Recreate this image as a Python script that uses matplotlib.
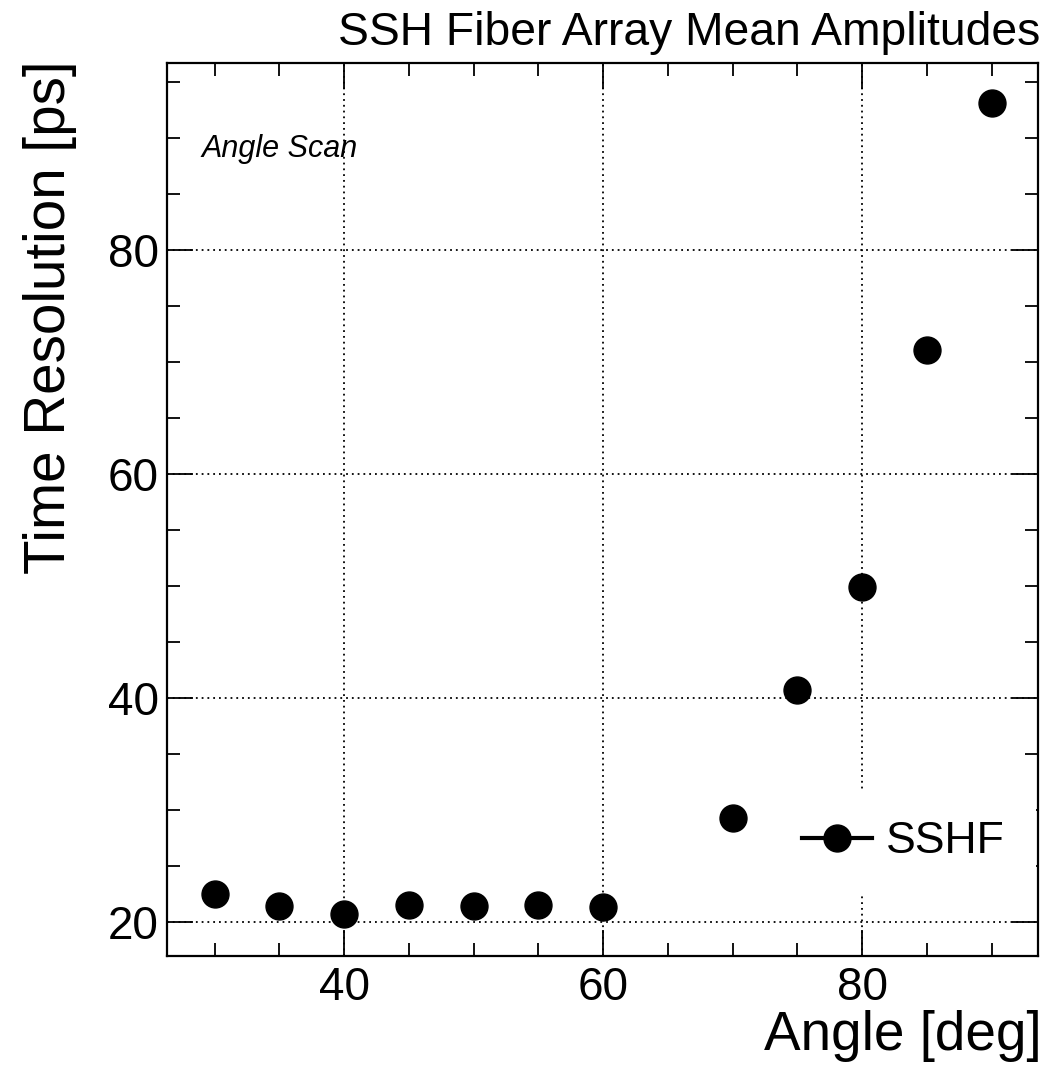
import matplotlib
matplotlib.use("Agg")
import matplotlib.pyplot as plt
from matplotlib.lines import Line2D
from matplotlib.ticker import MultipleLocator

plt.rcParams['font.family'] = ['Liberation Sans', 'DejaVu Sans']

angles = [30, 35, 40, 45, 50, 55, 60, 70, 75, 80, 85, 90]
time_res = [22.47, 21.43, 20.69, 21.52, 21.43, 21.52, 21.34, 29.29, 40.7, 49.9, 71.07, 93.1]
series_label = "SSHF"
title = "SSH Fiber Array Mean Amplitudes"
xlabel = "Angle [deg]"
ylabel = "Time Resolution [ps]"
note = "Angle Scan"

W, H = 1048, 1084
fig = plt.figure(figsize=(W / 100, H / 100), dpi=100)
ax = fig.add_axes([167 / W, 1 - 956 / H, (1038 - 167) / W, (956 - 63) / H])

ax.plot(angles, time_res, linestyle='none', marker='o', markersize=19.4,
        color='black', zorder=3)

ax.set_xlim(26.33, 93.59)
ax.set_ylim(16.96, 96.7)
ax.xaxis.set_major_locator(MultipleLocator(20))
ax.xaxis.set_minor_locator(MultipleLocator(5))
ax.yaxis.set_major_locator(MultipleLocator(20))
ax.yaxis.set_minor_locator(MultipleLocator(5))
ax.tick_params(which='both', direction='in', top=True, right=True, width=1.3, colors='black')
ax.tick_params(which='major', length=19, labelsize=33)
ax.tick_params(which='minor', length=9.5)
ax.tick_params(axis='y', which='major', pad=6)
ax.tick_params(axis='x', which='major', pad=7)
for s in ax.spines.values():
    s.set_linewidth(1.6)

ax.set_axisbelow(True)
ax.grid(True, which='major', linestyle=(0, (1, 2.2)), linewidth=1.3, color='black')

ax.text((202 - 167) / (1038 - 167), (956 - 157) / (956 - 63), note, transform=ax.transAxes,
        fontsize=22, style='italic', ha='left', va='baseline')

handle = Line2D([], [], color='black', linewidth=3, marker='o', markersize=19.4)
leg = ax.legend([handle], [series_label], loc='center left',
                bbox_to_anchor=(0.693, 0.1277), fontsize=32, frameon=True,
                facecolor='white', edgecolor='none', framealpha=1, fancybox=False,
                borderpad=0.7, borderaxespad=0, handlelength=1.58, handletextpad=0.32)
leg.set_zorder(2.4)

fig.text(1040 / W, 1 - 45 / H, title, ha='right', va='baseline', fontsize=33.3)
fig.text(1042 / W, 1 - 1050 / H, xlabel, ha='right', va='baseline', fontsize=39.5)
fig.text(50 / W, 1 - 61 / H, ylabel, ha='center', va='top', rotation=90, fontsize=40.8)

fig.savefig("out.png", dpi=100, facecolor='white')
